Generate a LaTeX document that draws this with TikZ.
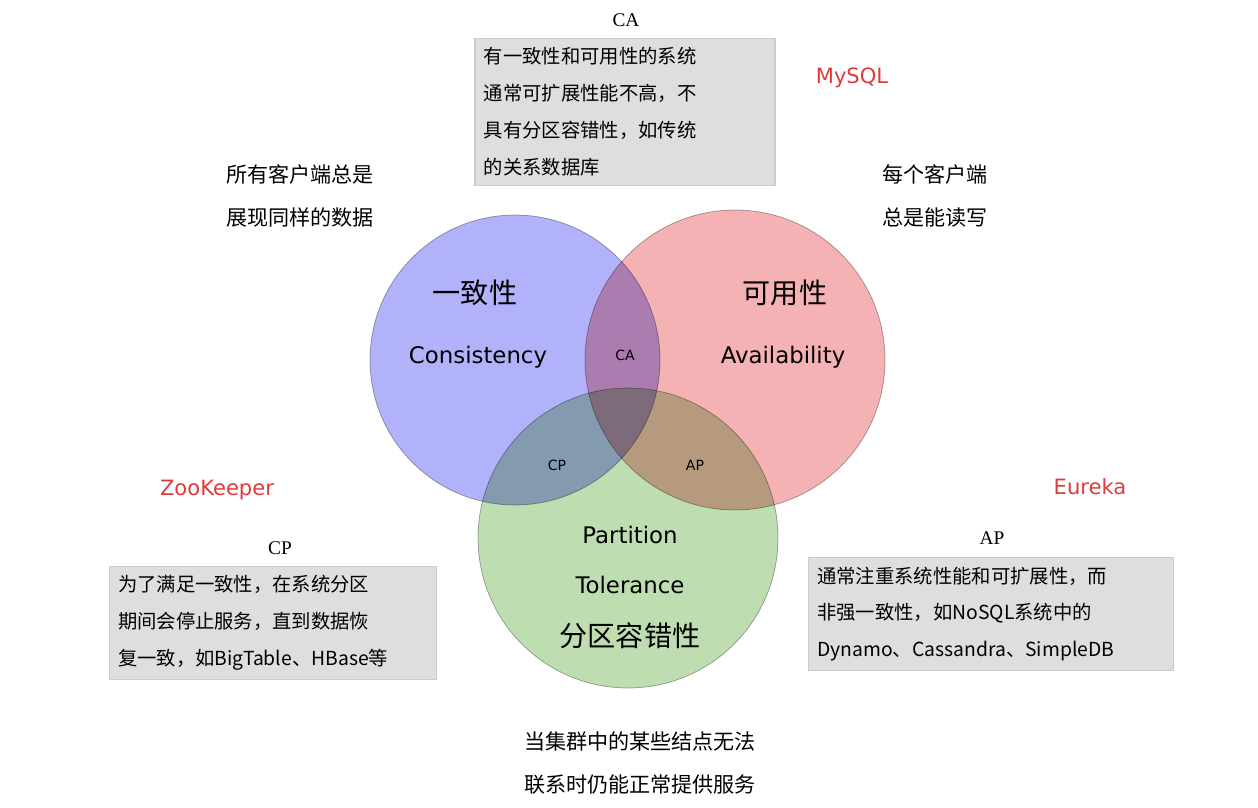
\documentclass[tikz,border=0pt]{standalone}
\usepackage{fontspec}
\setmainfont{Liberation Serif}
\newfontfamily\cjk{Noto Sans CJK SC}
\newfontfamily\sans{DejaVu Sans}
\usetikzlibrary{positioning}
\definecolor{cblue}{RGB}{178,178,250}
\definecolor{cred}{RGB}{244,178,180}
\definecolor{cgreen}{RGB}{190,222,178}
\definecolor{cbox}{RGB}{222,222,222}
\definecolor{cname}{RGB}{222,60,60}
\begin{document}
\begin{tikzpicture}[
        x = 0.02cm, y = -0.02cm, % pixel grid
        semithick
    ]

    \tikzset{
        setcircle/.style = {draw = gray!70, thin, blend mode = multiply},
        infobox/.style = {fill = cbox, draw = gray!40, align = left,
            font = \cjk\fontsize{11}{21}\selectfont, inner sep = 5pt},
        plain/.style = {font = \cjk\fontsize{12}{24}\selectfont, align = left},
        title/.style = {font = \fontsize{11}{13}\selectfont},
        dbname/.style = {font = \sans\fontsize{12}{14}\selectfont, text = cname},
        biglabel/.style = {font = \cjk\fontsize{16}{22}\selectfont},
        engl/.style = {font = \sans\fontsize{13}{16}\selectfont},
        small/.style = {font = \sans\fontsize{8}{10}\selectfont}
    }

    \useasboundingbox[fill = white] (0,0) rectangle (1258,808);

    \begin{scope}[transparency group]
        \fill[setcircle, fill = cblue] (515,360) circle (145);
        \fill[setcircle, fill = cred] (735,360) circle (150);
        \fill[setcircle, fill = cgreen] (628,538) circle (150);
    \end{scope}

    % circle labels
    \node (cn) [biglabel] at (475,293) {一致性};
    \node (ce) [engl] at (478,357) {Consistency};
    \node (an) [biglabel] at (785,293) {可用性};
    \node (ae) [engl] at (783,357) {Availability};
    \node (pe1) [engl] at (630,535) {Partition};
    \node (pe2) [engl] at (630,585) {Tolerance};
    \node (pn) [biglabel] at (630,636) {分区容错性};
    \node (ca) [small] at (625,355) {CA};
    \node (cp) [small] at (557,465) {CP};
    \node (ap) [small] at (695,465) {AP};

    % CA
    \node (catitle) [title] at (626,20) {CA};
    \node (cabox) [infobox, text width = 5.65cm] at (625,112)
        {有一致性和可用性的系统\\通常可扩展性能不高，不\\具有分区容错性，如传统\\的关系数据库};
    \node (mysql) [dbname] at (852,78) {MySQL};

    % CP
    \node (cptitle) [title] at (280,548) {CP};
    \node (cpbox) [infobox, text width = 6.2cm] at (273,623)
        {为了满足一致性，在系统分区\\期间会停止服务，直到数据恢\\复一致，如BigTable、HBase等};
    \node (zk) [dbname] at (217,490) {ZooKeeper};

    % AP
    \node (aptitle) [title] at (992,538) {AP};
    \node (apbox) [infobox, text width = 6.95cm] at (991,614)
        {通常注重系统性能和可扩展性，而\\非强一致性，如NoSQL系统中的\\Dynamo、Cassandra、SimpleDB};
    \node (eureka) [dbname] at (1090,487) {Eureka};

    % descriptions
    \node (cdesc) [plain] at (300,196) {所有客户端总是\\展现同样的数据};
    \node (adesc) [plain] at (935,196) {每个客户端\\总是能读写};
    \node (pdesc) [plain] at (640,763) {当集群中的某些结点无法\\联系时仍能正常提供服务};

\end{tikzpicture}
\end{document}
